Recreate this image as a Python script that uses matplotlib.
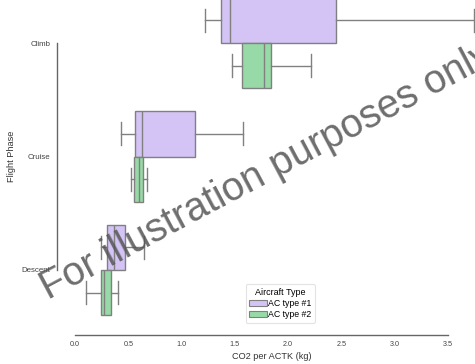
import matplotlib
matplotlib.use("Agg")
import matplotlib.pyplot as plt
from matplotlib.patches import Patch

plt.rcParams["font.family"] = ["Liberation Sans", "DejaVu Sans"]

# data (box stats per flight phase)
phases = ["Climb", "Cruise", "Descent"]
ac_types = ["AC type #1", "AC type #2"]

ac1_whislo = [1.22, 0.43, 0.24]
ac1_q1 = [1.37, 0.56, 0.30]
ac1_med = [1.46, 0.63, 0.37]
ac1_q3 = [2.45, 1.13, 0.47]
ac1_whishi = [3.75, 1.58, 0.65]

ac2_whislo = [1.47, 0.53, 0.10]
ac2_q1 = [1.57, 0.55, 0.24]
ac2_med = [1.77, 0.60, 0.27]
ac2_q3 = [1.84, 0.64, 0.34]
ac2_whishi = [2.22, 0.68, 0.40]

colors = ["#d4c4f6", "#98daa7"]
line_c = "#808080"

series = [
    (ac1_whislo, ac1_q1, ac1_med, ac1_q3, ac1_whishi),
    (ac2_whislo, ac2_q1, ac2_med, ac2_q3, ac2_whishi),
]

W, H, DPI = 475, 364, 100
fig = plt.figure(figsize=(W / DPI, H / DPI), dpi=DPI)
x0, x1 = -0.1, 3.8
px_per_unit = 106.5
left_px = 75 + x0 * px_per_unit
right_px = 75 + x1 * px_per_unit
top_px, bot_px = 43 - 56.75, 270 + 56.75
ax = fig.add_axes([left_px / W, (H - bot_px) / H, (right_px - left_px) / W, (bot_px - top_px) / H])

for k, (lo, q1, med, q3, hi) in enumerate(series):
    stats = []
    for i in range(len(phases)):
        stats.append({"whislo": lo[i], "q1": q1[i], "med": med[i], "q3": q3[i], "whishi": hi[i], "fliers": []})
    pos = [i + (k - 0.5) * 0.4 for i in range(len(phases))]
    ax.bxp(stats, positions=pos, widths=0.4, orientation="horizontal", patch_artist=True,
           showfliers=False, manage_ticks=False,
           boxprops=dict(facecolor=colors[k], edgecolor=line_c, linewidth=1.0),
           medianprops=dict(color=line_c, linewidth=1.0),
           whiskerprops=dict(color=line_c, linewidth=1.0),
           capprops=dict(color=line_c, linewidth=1.0))

ax.set_xlim(x0, x1)
ax.set_ylim(2.5, -0.5)
ax.set_yticks(range(len(phases)))
ax.set_yticklabels(phases)
ax.set_xticks([0.0, 0.5, 1.0, 1.5, 2.0, 2.5, 3.0, 3.5])
ax.set_xticklabels([f"{v:.1f}" for v in [0.0, 0.5, 1.0, 1.5, 2.0, 2.5, 3.0, 3.5]])
ax.tick_params(axis="y", length=0, labelsize=5.7, pad=5, colors="#444444")
ax.tick_params(axis="x", length=0, labelsize=5.2, pad=4, colors="#444444")
for s in ["top", "right"]:
    ax.spines[s].set_visible(False)
ax.spines["left"].set_position(("outward", 5))
ax.spines["bottom"].set_position(("outward", 6))
ax.spines["left"].set_bounds(0, 2)
ax.spines["bottom"].set_bounds(0, 3.5)
for s in ["left", "bottom"]:
    ax.spines[s].set_color("#666666")
    ax.spines[s].set_linewidth(1.0)

ax.set_xlabel("CO2 per ACTK (kg)", fontsize=6.6, color="#333333", labelpad=3)
ax.set_ylabel("Flight Phase", fontsize=6.6, color="#333333", labelpad=4)

handles = [Patch(facecolor=colors[k], edgecolor=line_c, linewidth=0.8, label=ac_types[k]) for k in range(2)]
leg = ax.legend(handles=handles, title="Aircraft Type", loc="lower center", bbox_to_anchor=(0.52, 0.012),
                fontsize=6.3, title_fontsize=6.5, frameon=True, handletextpad=0.2, labelspacing=0.25,
                borderaxespad=0, borderpad=0.4)
leg.get_frame().set_edgecolor("#dddddd")
leg.get_frame().set_linewidth(0.8)

fig.text(48 / W, 1 - 300 / H, "For illustration purposes only", fontsize=28.5, rotation=28,
         ha="left", va="baseline", color="#555555", alpha=0.85, rotation_mode="anchor")

fig.savefig("out.png", dpi=DPI)
